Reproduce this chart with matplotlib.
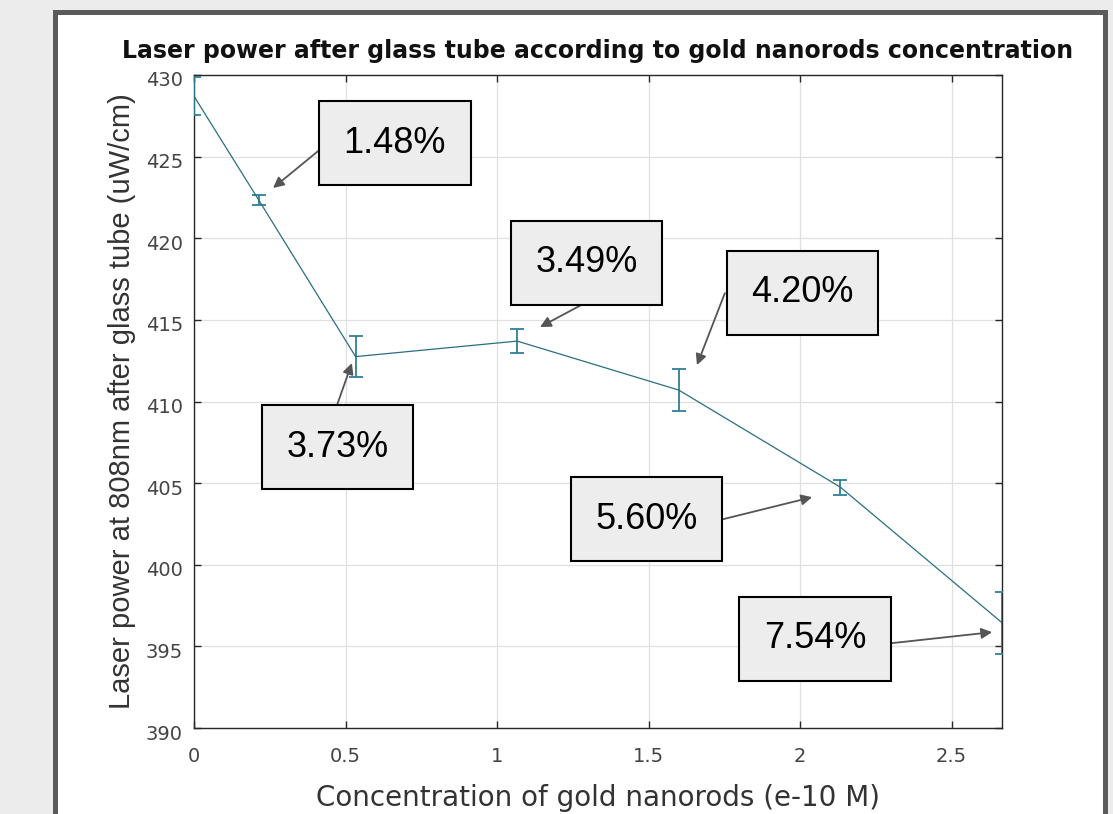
import matplotlib
matplotlib.use("Agg")
import matplotlib.pyplot as plt
from matplotlib.patches import Rectangle
from matplotlib.transforms import ScaledTranslation

plt.rcParams['font.family'] = ['Liberation Sans', 'DejaVu Sans']

# ---- data ----
concentration = [0.0, 0.2133, 0.5333, 1.0667, 1.6, 2.1333, 2.6667]
power = [428.7, 422.35, 412.75, 413.7, 410.7, 404.75, 396.45]
power_err = [1.15, 0.3, 1.25, 0.75, 1.3, 0.45, 1.9]

labels = ["1.48%", "3.73%", "3.49%", "4.20%", "5.60%", "7.54%"]
# annotation layout (data coordinates): box centre, arrow tail, arrow tip
box_x = [0.663, 0.474, 1.295, 2.008, 1.493, 2.050]
box_y = [425.83, 407.21, 418.51, 416.67, 402.79, 395.47]
tail_x = [0.426, 0.472, 1.290, 1.752, 1.746, 2.304]
tail_y = [425.59, 409.78, 416.03, 416.64, 402.79, 395.20]
tip_x = [0.261, 0.521, 1.142, 1.660, 2.040, 2.634]
tip_y = [423.08, 412.35, 414.56, 412.23, 404.14, 395.87]

xticks = [0, 0.5, 1, 1.5, 2, 2.5]
xticklabels = ["0", "0.5", "1", "1.5", "2", "2.5"]
yticks = [390, 395, 400, 405, 410, 415, 420, 425, 430]

W, H = 1113, 814
fig = plt.figure(figsize=(W / 100, H / 100), dpi=100, facecolor='#ececec')

# outer frame
frame = Rectangle((54.5 / W, -0.05), 1050 / W, 1 - 11.5 / H + 0.05,
                  transform=fig.transFigure, facecolor='white',
                  edgecolor='#5a5a5a', linewidth=3.6, zorder=-10)
fig.patches.append(frame)

ax = fig.add_axes([194 / W, 1 - 728 / H, (1002 - 194) / W, (728 - 75) / H])
ax.set_zorder(1)
ax.set_facecolor('white')

ax.errorbar(concentration, power, yerr=power_err, color='#2a6f80',
            ecolor='#2f7f95', elinewidth=1.3, capsize=5, capthick=1.3,
            linewidth=0.9, zorder=3)

ax.set_xlim(0, 8 / 3)
ax.set_ylim(390, 430)
ax.set_xticks(xticks)
ax.set_xticklabels(xticklabels)
ax.set_yticks(yticks)
ax.grid(True, color='#e0e0e0', linewidth=0.9)
ax.set_axisbelow(True)
ax.tick_params(direction='in', length=5, width=1, colors='#262626',
               labelcolor='#444444', labelsize=14, top=True, right=True)
ax.tick_params(axis='x', pad=14)
ax.tick_params(axis='y', pad=8)
for lbl in ax.get_xticklabels() + ax.get_yticklabels():
    lbl.set_fontfamily(['DejaVu Sans'])
for lbl in ax.get_yticklabels():
    lbl.set_transform(lbl.get_transform() + ScaledTranslation(0, -4 / 100, fig.dpi_scale_trans))
for s in ax.spines.values():
    s.set_color('#262626')
    s.set_linewidth(1.0)

ax.set_title("Laser power after glass tube according to gold nanorods concentration",
             fontsize=17, fontweight='bold', color='#111111', pad=12,
             family=['DejaVu Sans'])
ax.set_xlabel("Concentration of gold nanorods (e-10 M)", fontsize=20, color='#333333',
              labelpad=13, family=['DejaVu Sans'])
ax.set_ylabel("Laser power at 808nm after glass tube (uW/cm)", fontsize=21,
              color='#333333', labelpad=7)

for lab, bx, by, tx, ty, px, py in zip(labels, box_x, box_y, tail_x, tail_y, tip_x, tip_y):
    ax.annotate('', xy=(px, py), xytext=(tx, ty),
                arrowprops=dict(arrowstyle='-|>', color='#555555', lw=1.3,
                                mutation_scale=16, shrinkA=0, shrinkB=0),
                zorder=5)
    ax.text(bx, by, lab, ha='center', va='center', fontsize=26, color='black',
            bbox=dict(boxstyle='square,pad=0.68', facecolor='#ededed',
                      edgecolor='black', linewidth=1.5),
            zorder=6)

fig.savefig('out.png', dpi=100, facecolor=fig.get_facecolor())
